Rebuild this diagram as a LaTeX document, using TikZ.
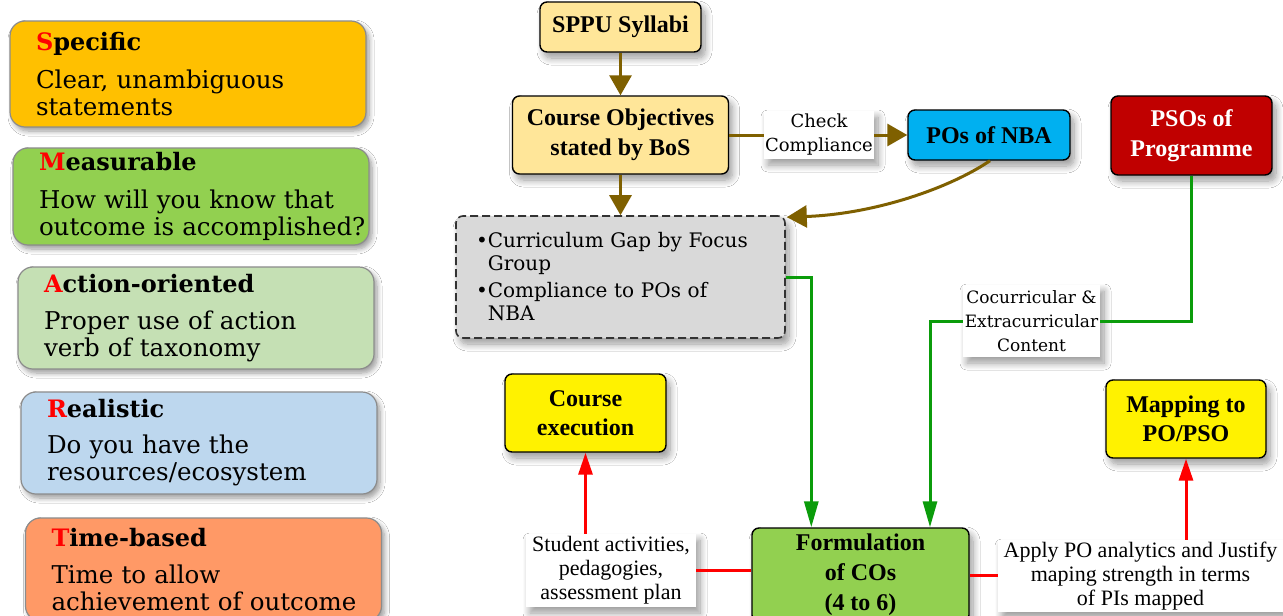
\documentclass[tikz,border=0pt]{standalone}
\usepackage{fontspec}
\setmainfont{Liberation Serif}
\newfontfamily\dvs{DejaVu Serif}
\usetikzlibrary{arrows.meta,shadows.blur,calc}
\definecolor{cSpec}{HTML}{FFC000}
\definecolor{cMeas}{HTML}{92D050}
\definecolor{cAct}{HTML}{C5E0B4}
\definecolor{cReal}{HTML}{BDD7EE}
\definecolor{cTime}{HTML}{FF9966}
\definecolor{cSyl}{HTML}{FFE699}
\definecolor{cGap}{HTML}{D9D9D9}
\definecolor{cPO}{HTML}{00B0F0}
\definecolor{cPSO}{HTML}{C00000}
\definecolor{cBrown}{HTML}{7F6000}
\definecolor{cGreen}{HTML}{0B9C0B}
\definecolor{cRed}{HTML}{FF0000}
\tikzset{
  shad/.style={blur shadow={shadow xshift=4pt, shadow yshift=-6pt, shadow blur radius=7pt, shadow blur steps=10}},
  smart/.style={rectangle, rounded corners=15pt, draw=black!45, line width=1.2pt,
    inner xsep=26pt, inner ysep=0pt, text width=304pt, align=left,
    font=\dvs\fontsize{24.5}{27}\selectfont,
    blur shadow={shadow xshift=3pt, shadow yshift=-4pt, shadow blur radius=5pt, shadow blur steps=8}},
  fbox/.style={rectangle, draw=black, line width=1.4pt, rounded corners=7pt,
    align=center, inner sep=0pt, font=\bfseries\fontsize{24}{29.5}\selectfont, shad},
  gapbox/.style={rectangle, draw=black!80, dashed, dash pattern=on 8pt off 4pt,
    line width=1.6pt, rounded corners=7pt, fill=cGap, inner xsep=20pt, inner ysep=0pt,
    text width=289pt, align=left, font=\dvs\fontsize{20}{23}\selectfont, shad},
  lbl/.style={rectangle, fill=white, inner sep=0pt, align=center,
    font=\dvs\fontsize{18}{24}\selectfont, shad},
  lbltwo/.style={rectangle, fill=white, inner sep=0pt, align=center,
    font=\fontsize{22}{24}\selectfont, shad},
  brownline/.style={draw=cBrown, line width=3pt},
  brownarrow/.style={brownline, -{Triangle[width=22pt,length=20pt]}},
  greenline/.style={draw=cGreen, line width=3pt},
  greenarrow/.style={greenline, -{Triangle[width=14pt,length=26pt]}},
  redline/.style={draw=cRed, line width=3pt},
  redarrow/.style={redline, -{Triangle[width=14pt,length=22pt]}}
}
\begin{document}
\begin{tikzpicture}[x=1pt,y=-1pt]
\useasboundingbox (0,0) rectangle (1283,616);
\fill[white] (0,0) rectangle (1283,616);

% SMART boxes
\node[smart, fill=cSpec, minimum height=106pt] (spec) at (188,74)
  {{\fontsize{24}{27}\selectfont\bfseries\textcolor{red}{S}pecific}\\[11pt]Clear, unambiguous\\statements};
\node[smart, fill=cMeas, minimum height=97pt] (meas) at (191,196.5)
  {{\fontsize{24}{27}\selectfont\bfseries\textcolor{red}{M}easurable}\\[11pt]How will you know that\\\mbox{outcome is accomplished?}};
\node[smart, fill=cAct, minimum height=102pt] (act) at (196,318)
  {{\fontsize{24}{27}\selectfont\bfseries\textcolor{red}{A}ction-oriented}\\[10pt]Proper use of action\\verb of taxonomy};
\node[smart, fill=cReal, minimum height=102pt] (real) at (199,443)
  {{\fontsize{24}{27}\selectfont\bfseries\textcolor{red}{R}ealistic}\\[9pt]Do you have the\\resources/ecosystem};
\node[smart, fill=cTime, minimum height=103pt] (time) at (203.5,569.5)
  {{\fontsize{24}{27}\selectfont\bfseries\textcolor{red}{T}ime-based}\\[10pt]Time to allow\\\mbox{achievement of outcome}};

% flow chart nodes
\node[fbox, fill=cSyl, minimum width=161pt, minimum height=50pt] (sppu) at (620.5,27) {SPPU Syllabi};
\node[fbox, fill=cSyl, minimum width=216pt, minimum height=78pt] (cobj) at (620.5,135) {Course Objectives\\stated by BoS};
\node[fbox, fill=cPO, minimum width=162pt, minimum height=50pt] (po) at (989,135) {POs of NBA};
\node[fbox, fill=cPSO, text=white, minimum width=161pt, minimum height=79pt] (pso) at (1191.5,135.5) {PSOs of\\Programme};
\node[gapbox, minimum height=122pt] (gap) at (620.5,277)
  {\textbullet Curriculum Gap by Focus\\\phantom{\textbullet}Group\\[4pt]\textbullet Compliance to POs of\\\phantom{\textbullet}NBA};
\node[lbl, minimum width=110pt, minimum height=48pt] (chk) at (819,135) {Check\\Compliance};
\node[lbl, font=\dvs\fontsize{17}{24}\selectfont, minimum width=137pt, minimum height=72pt] (coc) at (1031.5,321)
  {Cocurricular \&\\Extracurricular\\Content};
\node[fbox, fill=cMeas, minimum width=217pt, minimum height=94pt, font=\bfseries\fontsize{24}{30}\selectfont] (form) at (860.5,575)
  {Formulation\\of COs\\(4 to 6)};
\node[fbox, fill=yellow, minimum width=161pt, minimum height=78pt] (exec) at (585.5,413) {Course\\execution};
\node[fbox, fill=yellow, minimum width=160pt, minimum height=78pt] (map) at (1186,419) {Mapping to\\PO/PSO};
\node[lbltwo, minimum width=170pt, minimum height=73pt] (stud) at (611,570.5)
  {Student activities,\\pedagogies,\\assessment plan};
\node[lbltwo, minimum width=285pt, minimum height=72pt] (apply) at (1140.5,576)
  {Apply PO analytics and Justify\\maping strength in terms\\of PIs mapped};

% connectors
\draw[brownarrow] (sppu.south) -- (cobj.north);
\draw[brownarrow] (cobj.south) -- (cobj.south |- gap.north);
\draw[brownline] (cobj.east) -- (chk.west);
\draw[brownarrow] (chk.east) -- (po.west);
\draw[brownarrow] ($(po.south)+(1,0)$) .. controls (950,188) and (875,214) .. ($(gap.north east)+(1,2)$);

\draw[greenarrow] (gap.east) -| ($(form.north west)+(60,0)$);
\draw[greenline] (pso.south) |- (coc.east);
\draw[greenarrow] (coc.west) -| ($(form.north)+(69.5,0)$);

\draw[redline] (form.west |- stud.east) -- (stud.east);
\draw[redarrow] (exec.south |- stud.north) -- (exec.south);
\draw[redline] (form.east) -- (form.east -| apply.west);
\draw[redarrow] (map.south |- apply.north) -- (map.south);
\end{tikzpicture}
\end{document}
